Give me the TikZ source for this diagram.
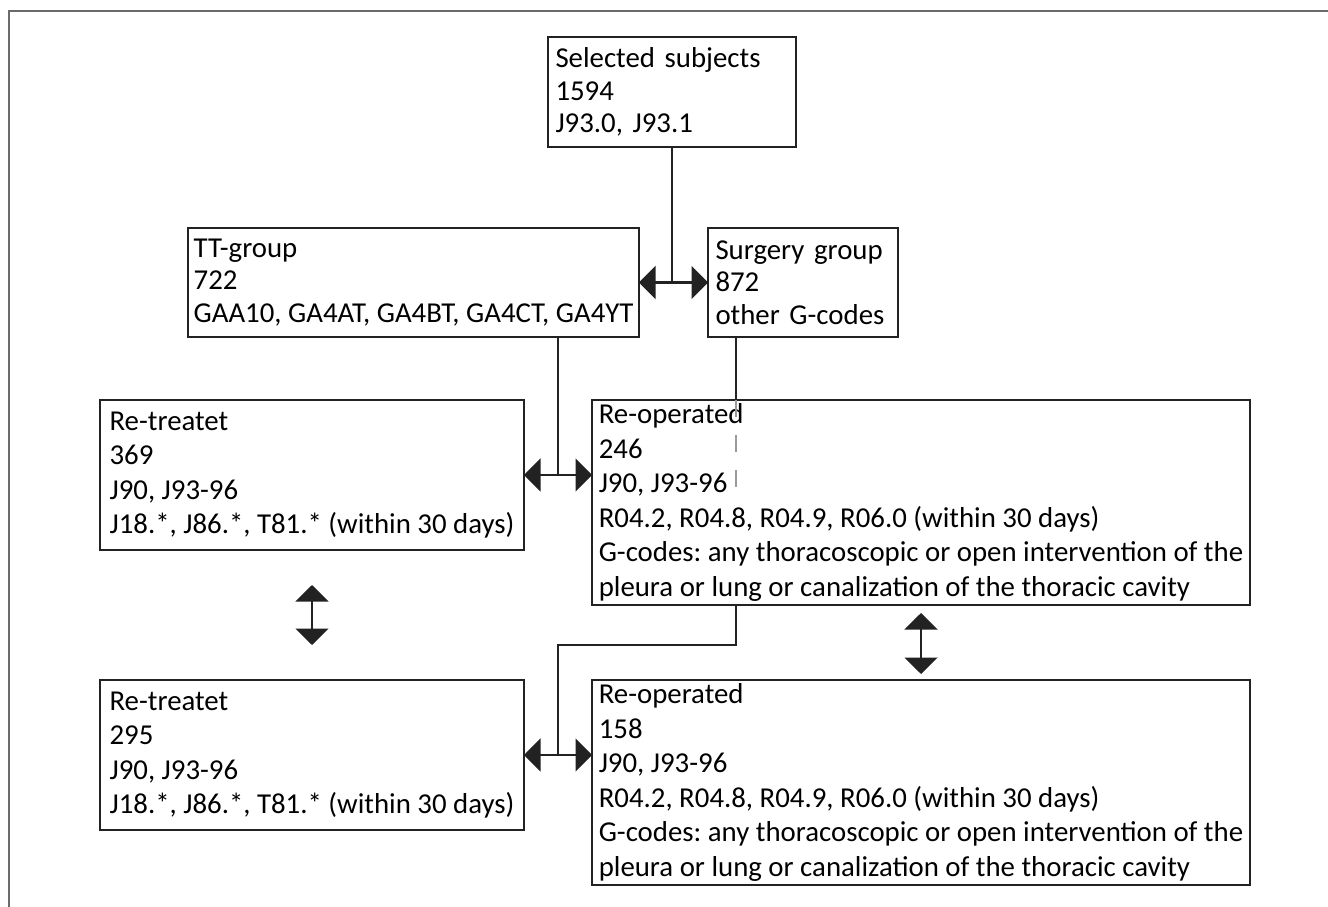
\documentclass[tikz,border=0pt]{standalone}
\usepackage{fontspec}
\setmainfont{Carlito}
\usetikzlibrary{arrows.meta,positioning,calc}
\definecolor{inkgray}{HTML}{222222}
\definecolor{framegray}{HTML}{6B6B6B}
\definecolor{dashgray}{HTML}{9A9A9A}

\begin{document}
\begin{tikzpicture}[
 box/.style={draw=inkgray,line width=1.3pt,align=left,inner xsep=1mm,inner ysep=0pt,
   outer sep=0pt,font=\fontsize{16.4pt}{18.5pt}\selectfont\frenchspacing},
 widebox/.style={box,font=\fontsize{16.4pt}{19.6pt}\selectfont\frenchspacing},
 link/.style={draw=inkgray,line width=1.3pt},
 arr/.style={link,{Triangle[length=3.3mm,width=6.6mm]}-{Triangle[length=3.3mm,width=6.6mm]}}]
 \useasboundingbox (0,0) rectangle (26.56,-18.14);
 \draw[framegray,line width=1.1pt] (26.56,-0.22) -- (0.18,-0.22) -- (0.18,-18.14);
 \node[box,inner xsep=1.5mm,text width=4.66cm,minimum height=2.2cm] (sel) at (13.44,-1.84)
   {Selected subjects\\1594\\J93.0, J93.1};
 \node[box,below left=1.62cm and -1.82cm of sel,minimum width=9.02cm,
   minimum height=2.18cm] (tt) {TT-group\\722\\GAA10, GA4AT, GA4BT, GA4CT, GA4YT};
 \node[box,right=1.38cm of tt,inner xsep=1.5mm,text width=3.5cm,minimum height=2.18cm] (surg)
   {Surgery group\\872\\other G-codes};
 \node[widebox,below left=1.26cm and -6.72cm of tt,minimum width=8.48cm,minimum height=3cm] (rt1)
   {Re-treatet\\369\\J90, J93-96\\J18.*, J86.*, T81.* (within 30 days)};
 \node[widebox,below right=1.26cm and -0.94cm of tt,minimum width=13.16cm,
   minimum height=4.1cm] (ro1)
   {Re-operated\\246\\J90, J93-96\\R04.2, R04.8, R04.9, R06.0 (within 30 days)\\
    G-codes: any thoracoscopic or open intervention of the\\
    pleura or lung or canalization of the thoracic cavity};
 \node[widebox,below=2.6cm of rt1,minimum width=8.48cm,minimum height=3cm] (rt2)
   {Re-treatet\\295\\J90, J93-96\\J18.*, J86.*, T81.* (within 30 days)};
 \node[widebox,below=1.5cm of ro1,minimum width=13.16cm,minimum height=4.1cm] (ro2)
   {Re-operated\\158\\J90, J93-96\\R04.2, R04.8, R04.9, R06.0 (within 30 days)\\
    G-codes: any thoracoscopic or open intervention of the\\
    pleura or lung or canalization of the thoracic cavity};
 % junctions between the groups
 \coordinate (m1) at ($(rt1.east)!0.5!(rt1.east -| ro1.west)$);
 \coordinate (m2) at ($(rt2.east)!0.5!(rt2.east -| ro2.west)$);
 \coordinate (s1) at ([xshift=5.6mm]surg.south west);
 \draw[arr] (tt) -- (surg);
 \draw[link] (sel.south) -- (sel.south |- tt.east);
 \draw[arr] (rt1.east) -- (rt1.east -| ro1.west);
 \draw[link] (m1 |- tt.south) -- (m1);
 \draw[link] (s1) -- (s1 |- ro1.north);
 \draw[dashgray,line width=0.6pt,dash pattern=on 3.4mm off 3.6mm] (s1 |- ro1.north) -- ++(0,-1.9);
 \draw[arr] (rt2.east) -- (rt2.east -| ro2.west);
 \draw[link] (s1 |- ro1.south) -- ++(0,-0.8) -| (m2);
 \draw[arr,shorten <=7mm,shorten >=7mm] (rt1) -- (rt2);
 \draw[arr,shorten <=1.6mm,shorten >=1.2mm] (ro1) -- (ro2);
\end{tikzpicture}
\end{document}
